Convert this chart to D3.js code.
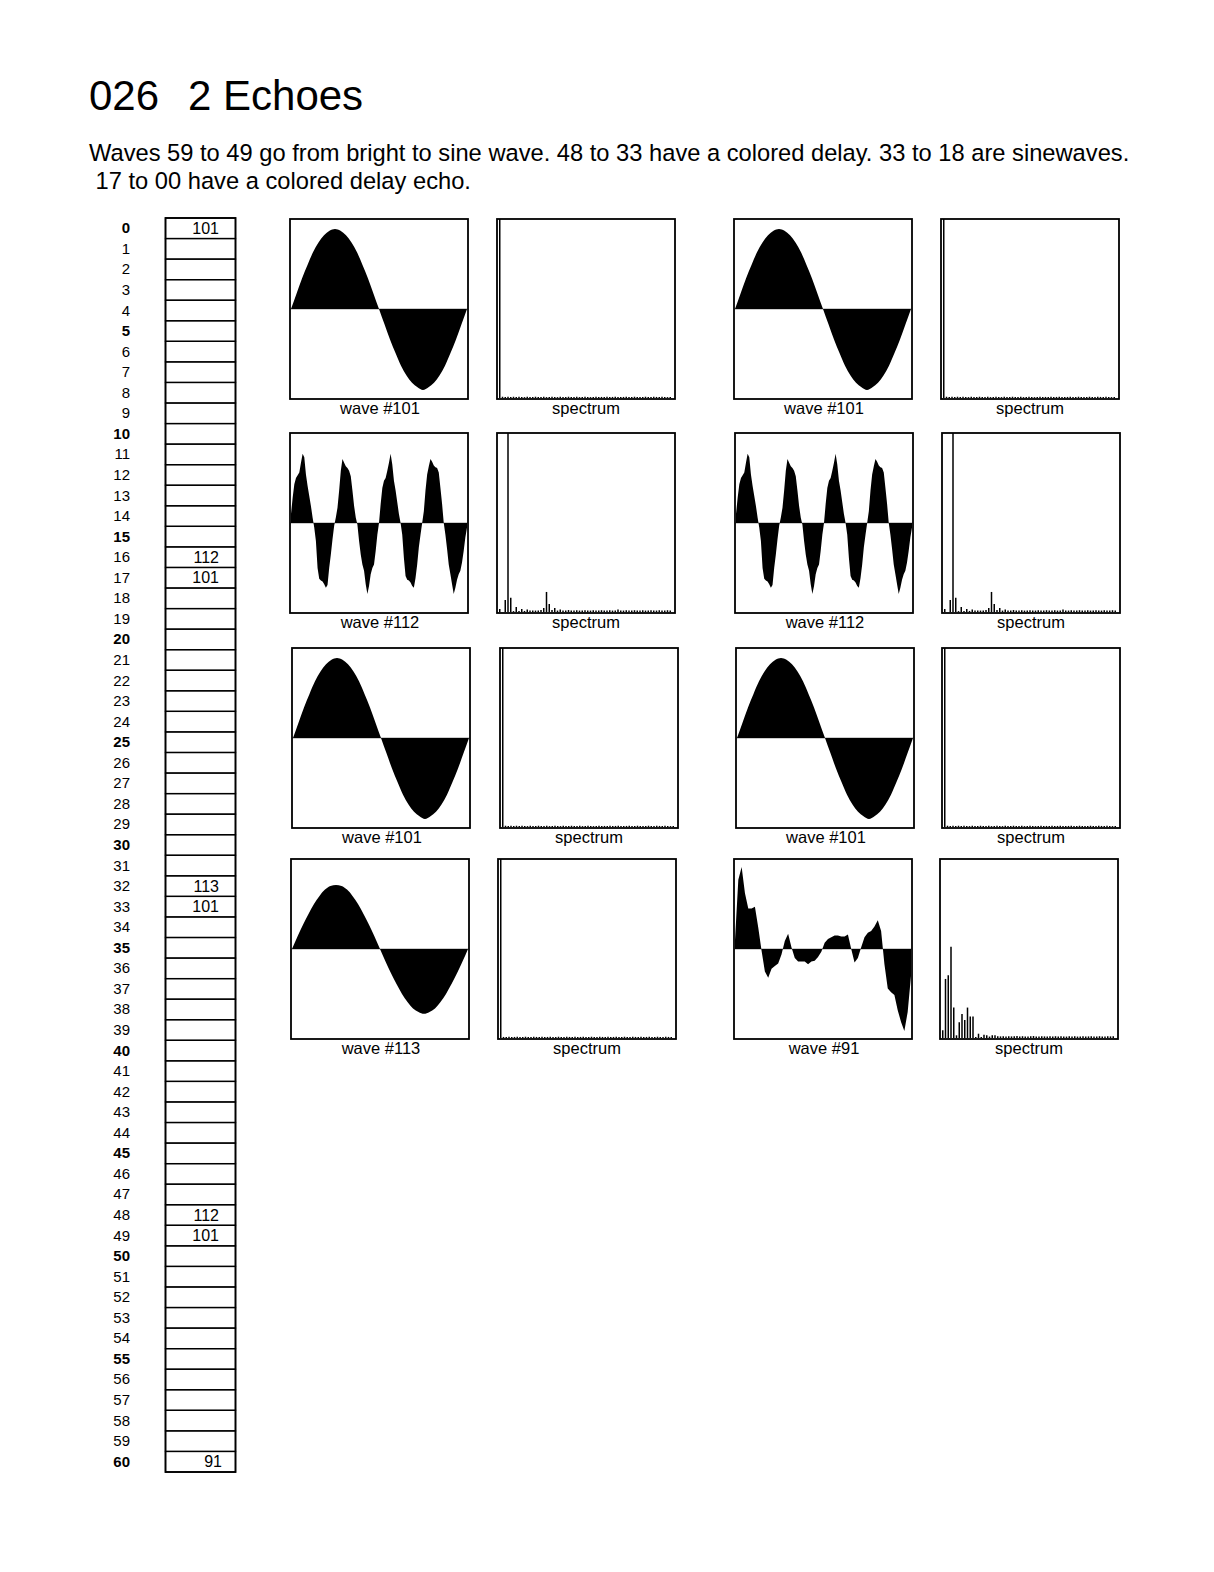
<!DOCTYPE html>
<html><head><meta charset="utf-8">
<script src="https://cdn.jsdelivr.net/npm/d3@7"></script>
<style>body{margin:0;background:#fff;} svg{display:block;font-family:"Liberation Sans",Arial,sans-serif;}</style>
</head><body>
<script>
// ---------- DATA ----------
const titleParts = ["026", "2 Echoes"];
const subtitleLines = [
  "Waves 59 to 49 go from bright to sine wave. 48 to 33 have a colored delay. 33 to 18 are sinewaves.",
  " 17 to 00 have a colored delay echo."
];
const tableRows = d3.range(0, 61);
const tableEntries = [
  {row: 0, wave: 101}, {row: 16, wave: 112}, {row: 17, wave: 101},
  {row: 32, wave: 113}, {row: 33, wave: 101}, {row: 48, wave: 112},
  {row: 49, wave: 101}, {row: 60, wave: 91}
];
// panel order: left column rows 1-4, right column rows 1-4
const panelWaves = [101, 112, 101, 113, 101, 112, 101, 91];

const wave101 = [0,0.17,0.34,0.49,0.63,0.74,0.82,0.87,0.89,0.87,0.82,0.74,0.63,0.49,0.34,0.17,0,
  -0.17,-0.34,-0.49,-0.63,-0.74,-0.82,-0.87,-0.90,-0.87,-0.82,-0.74,-0.63,-0.49,-0.34,-0.17,0];
const wave113 = [0,0.14,0.27,0.39,0.50,0.59,0.66,0.70,0.71,0.70,0.66,0.59,0.50,0.39,0.27,0.14,0,
  -0.14,-0.27,-0.39,-0.50,-0.59,-0.66,-0.70,-0.72,-0.70,-0.66,-0.59,-0.50,-0.39,-0.27,-0.14,0];
const wave112 = [0.10,0.28,0.43,0.50,0.53,0.56,0.67,0.77,0.73,0.54,0.41,0.30,0.19,0.06,-0.05,-0.20,
  -0.50,-0.62,-0.64,-0.65,-0.68,-0.72,-0.69,-0.50,-0.35,-0.18,-0.03,0.06,0.17,0.36,0.58,0.71,
  0.67,0.63,0.61,0.58,0.52,0.36,0.19,0.06,-0.02,-0.20,-0.35,-0.46,-0.53,-0.68,-0.79,-0.70,
  -0.57,-0.50,-0.46,-0.31,-0.13,0.00,0.21,0.39,0.47,0.50,0.58,0.67,0.77,0.65,0.47,0.36,
  0.23,0.10,0.00,-0.13,-0.39,-0.59,-0.63,-0.64,-0.66,-0.70,-0.72,-0.61,-0.46,-0.27,-0.13,0.00,
  0.13,0.36,0.54,0.63,0.71,0.68,0.64,0.62,0.61,0.56,0.39,0.21,0.00,-0.13,-0.29,-0.46,
  -0.57,-0.68,-0.79,-0.72,-0.63,-0.57,-0.53,-0.44,-0.31,-0.16,-0.05];
const wave91 = [0.10,0.77,0.91,0.62,0.45,0.45,0.47,0.24,-0.02,-0.25,-0.32,-0.22,-0.19,-0.16,-0.06,0.09,
  0.17,0.02,-0.10,-0.14,-0.14,-0.14,-0.17,-0.14,-0.13,-0.09,-0.03,0.07,0.11,0.13,0.15,0.15,
  0.14,0.14,0.16,0.00,-0.15,-0.10,0.02,0.13,0.18,0.20,0.25,0.32,0.20,-0.17,-0.44,-0.48,
  -0.51,-0.68,-0.81,-0.91,-0.70,-0.30];

const spec101 = [0,100,0.7,0.6,0.7,0.5,0.7,0.6,0.7,0.6,0.5,0.7,0.6,0.5,0.7,0.6,0.6,0.7,0.5,0.6,0.7,0.6,0.5,0.7,
  0.6,0.6,0.7,0.5,0.6,0.7,0.5,0.6,0.7,0.6,0.5,0.6,0.7,0.5,0.6,0.6,0.7,0.5,0.6,0.7,0.6,0.5,0.6,0.7,
  0.5,0.6,0.7,0.6,0.5,0.6,0.7,0.6,0.5,0.7,0.6,0.5,0.7,0.6,0.5,0.6];
const spec113 = [0,100,0.6,0.6,0.7,0.6,0.6,0.7,0.6,0.6,0.7,0.6,0.6,0.7,0.6,0.6,0.7,0.6,0.6,0.7,0.6,0.6,0.7,0.6,
  0.6,0.7,0.6,0.6,0.7,0.6,0.6,0.7,0.6,0.6,0.7,0.6,0.6,0.7,0.6,0.6,0.7,0.6,0.6,0.7,0.6,0.6,0.7,0.6,
  0.6,0.7,0.6,0.6,0.7,0.6,0.6,0.7,0.6,0.6,0.7,0.6,0.6,0.7,0.6,0.6];
const spec112 = [0,1.7,0,6.7,100,7.9,0.5,2.8,0.6,1.7,0.6,1.4,0.8,0.8,0.8,0.8,1.1,2.2,11.2,4.5,1.1,2.2,0.8,1.4,
  0.8,0.8,1.1,0.8,0.8,1.0,0.8,0.8,1.0,0.8,0.8,1.0,0.8,0.8,1.0,0.8,0.8,1.0,0.8,0.8,1.4,0.8,0.8,1.0,
  0.8,0.8,1.0,0.8,0.8,1.0,0.8,0.8,1.0,0.8,0.8,1.0,0.8,0.8,1.0,0.8];
const spec91 = [0,4.3,33,35,51,17,1.5,8.8,13.4,10,17,12,12,0.6,2.4,0.6,1.8,1.5,0.8,1.5,1.5,1.0,0.9,1.0,
  0.8,1.0,0.9,1.0,1.1,0.8,1.0,0.9,0.8,1.0,1.1,0.9,0.8,1.0,0.9,0.8,1.0,0.9,1.0,0.8,1.0,0.9,0.8,1.0,
  0.9,1.0,0.8,0.9,1.0,0.8,0.9,1.0,0.8,0.9,1.0,0.9,0.8,1.0,0.9,1.0];

const waveData = {101: wave101, 112: wave112, 113: wave113, 91: wave91};
const specData = {101: spec101, 112: spec112, 113: spec113, 91: spec91};

// ---------- LAYOUT ----------
const W = 1214, H = 1572;
const svg = d3.select("body").append("svg").attr("width", W).attr("height", H);

const title = svg.append("text").attr("y", 110).attr("font-size", 42);
title.selectAll("tspan").data(titleParts).join("tspan")
  .attr("x", (d, i) => i === 0 ? 89 : 188).text(d => d);

svg.selectAll("text.sub").data(subtitleLines).join("text").attr("class", "sub")
  .attr("x", 89).attr("y", (d, i) => 161 + i * 28).attr("font-size", 23.7)
  .style("white-space", "pre").text(d => d);

// table
const rowY = d3.scaleLinear().domain([0, 61]).range([218, 1472]);
const tbl = svg.append("g");
tbl.selectAll("rect.cell").data(tableRows).join("rect").attr("class", "cell")
  .attr("x", 165.5).attr("y", d => rowY(d)).attr("width", 70).attr("height", rowY(1) - rowY(0))
  .attr("fill", "none").attr("stroke", "#000").attr("stroke-width", 1.3);
tbl.append("rect").attr("x", 165.5).attr("y", rowY(0)).attr("width", 70).attr("height", rowY(61) - rowY(0))
  .attr("fill", "none").attr("stroke", "#000").attr("stroke-width", 1.8);
tbl.selectAll("text.rl").data(tableRows).join("text").attr("class", "rl")
  .attr("x", 130).attr("y", d => (rowY(d) + rowY(d + 1)) / 2 + 5).attr("text-anchor", "end")
  .attr("font-size", 15).attr("font-weight", d => d % 5 === 0 ? "bold" : "normal").text(d => d);
tbl.selectAll("text.tv").data(tableEntries).join("text").attr("class", "tv")
  .attr("x", d => d.wave < 100 ? 222 : 219).attr("y", d => (rowY(d.row) + rowY(d.row + 1)) / 2 + 5.5)
  .attr("text-anchor", "end").attr("font-size", 16).text(d => d.wave);

// panels
const rowTops = [219, 433, 648, 859];
const colLefts = [[290, 497, 734, 941], [290, 497, 735, 942], [292, 500, 736, 942], [291, 498, 734, 940]];
const BW = 178, BH = 180;

panelWaves.forEach((wv, idx) => {
  const col = Math.floor(idx / 4), row = idx % 4;
  const top = rowTops[row];
  const wl = colLefts[row][col * 2], sl = colLefts[row][col * 2 + 1];
  // wave panel
  const g = svg.append("g");
  const vals = waveData[wv];
  const x = d3.scaleLinear().domain([0, vals.length - 1]).range([wl + 1, wl + BW - 1]);
  const y = d3.scaleLinear().domain([-1, 1]).range([top + BH, top]);
  g.append("line").attr("x1", wl).attr("x2", wl + BW).attr("y1", y(0)).attr("y2", y(0))
    .attr("stroke", "#999").attr("stroke-width", 1);
  const area = d3.area().x((d, i) => x(i)).y0(y(0)).y1(d => y(d))
    .curve(wv === 101 || wv === 113 ? d3.curveMonotoneX : d3.curveLinear);
  g.append("path").datum(vals).attr("d", area).attr("fill", "#000");
  g.append("rect").attr("x", wl).attr("y", top).attr("width", BW).attr("height", BH)
    .attr("fill", "none").attr("stroke", "#000").attr("stroke-width", 1.8);
  g.append("text").attr("x", wl + BW / 2 + 1).attr("y", top + BH + 15).attr("text-anchor", "middle")
    .attr("font-size", 16.5).text("wave #" + wv);

  // spectrum panel
  const sp = specData[wv];
  const sx = d3.scaleLinear().domain([0, 64]).range([sl, sl + 176]);
  const sy = d3.scaleLinear().domain([0, 100]).range([top + BH - 1, top]).clamp(true);
  const gs = svg.append("g");
  gs.selectAll("line.bar").data(sp).join("line").attr("class", "bar")
    .attr("x1", (d, i) => sx(i)).attr("x2", (d, i) => sx(i))
    .attr("y1", sy(0)).attr("y2", d => sy(d))
    .attr("stroke", "#000").attr("stroke-width", 1.5);
  gs.append("rect").attr("x", sl).attr("y", top).attr("width", BW).attr("height", BH)
    .attr("fill", "none").attr("stroke", "#000").attr("stroke-width", 1.8);
  gs.append("text").attr("x", sl + BW / 2).attr("y", top + BH + 15).attr("text-anchor", "middle")
    .attr("font-size", 16.5).text("spectrum");
});
</script>
</body></html>
